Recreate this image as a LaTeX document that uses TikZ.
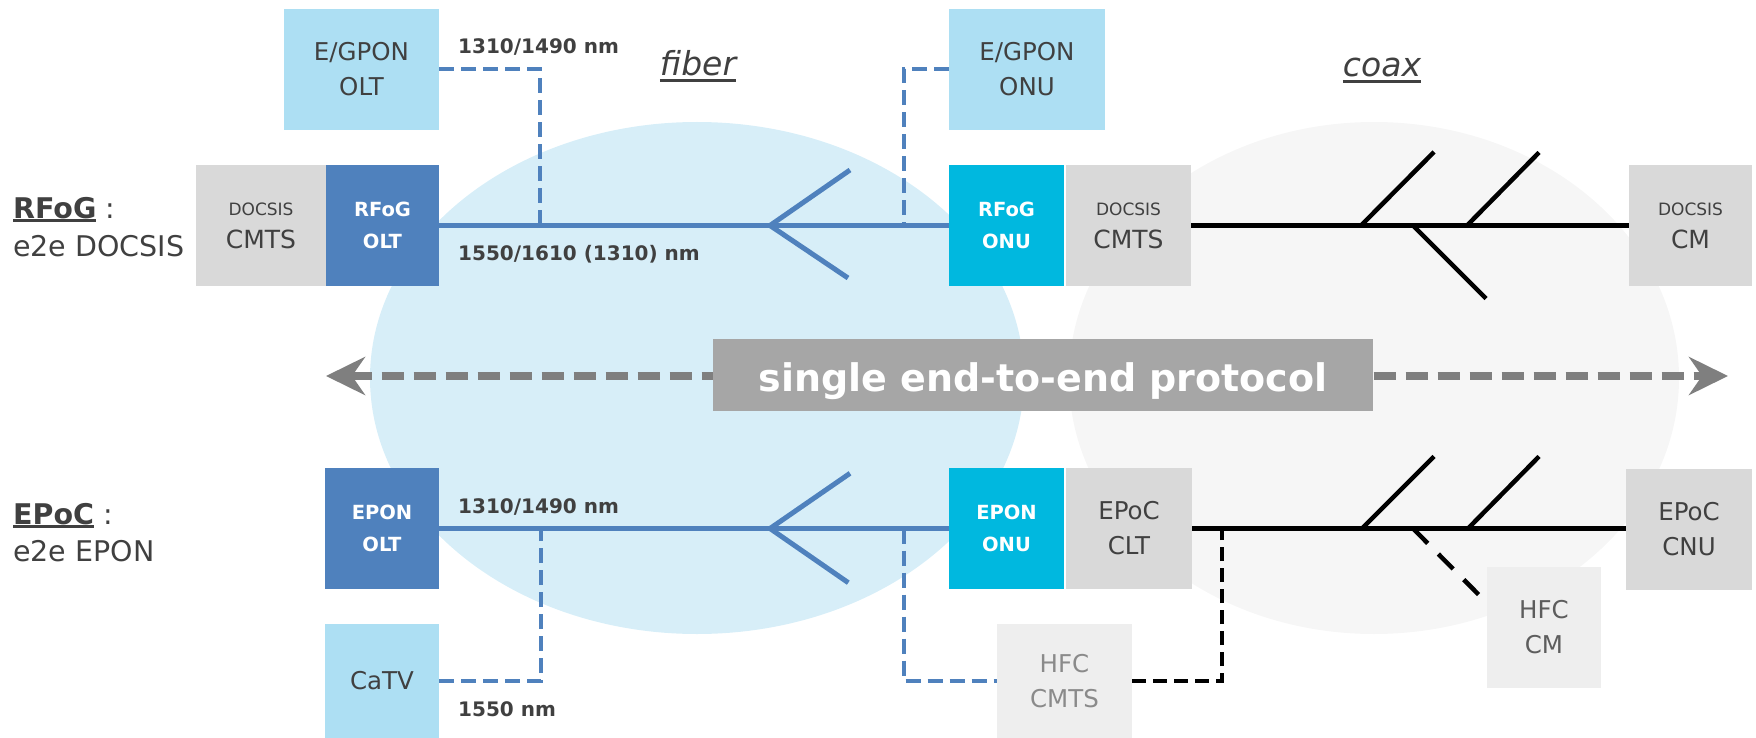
\documentclass[tikz,border=0pt]{standalone}
\usepackage{fontspec}
\setmainfont{DejaVu Sans}
\usetikzlibrary{arrows.meta}
\definecolor{lblue}{HTML}{ADDFF3}
\definecolor{sblue}{HTML}{4F81BD}
\definecolor{cyanb}{HTML}{00B8DF}
\definecolor{gbox}{HTML}{D9D9D9}
\definecolor{hbox}{HTML}{EEEEEE}
\definecolor{ellb}{HTML}{D7EEF8}
\definecolor{ellg}{HTML}{F6F6F6}
\definecolor{txt}{HTML}{404040}
\definecolor{htxt}{HTML}{8A8A8A}
\definecolor{agray}{HTML}{7F7F7F}
\definecolor{pgray}{HTML}{A6A6A6}
\newcommand\myreg{\fontsize{24.5}{35}\selectfont}
\newcommand\mybold{\fontsize{19.5}{32}\selectfont\bfseries}
\newcommand\mysmall{\fontsize{17}{20}\selectfont}
\newcommand\mynm{\fontsize{20}{24}\selectfont\bfseries}
\newcommand\mylab{\fontsize{28.5}{38}\selectfont}
\newcommand\myul[2][4pt]{\setbox0=\hbox{#2}\rlap{\raisebox{-#1}{\rule{\wd0}{3pt}}}\box0\relax}
\begin{document}
\begin{tikzpicture}[x=1pt,y=-1pt,
  bx/.style={inner sep=0pt, outer sep=0pt, align=center, text=txt, font=\myreg},
  lb/.style={bx, fill=lblue},
  gb/.style={bx, fill=gbox},
  dgb/.style={bx, fill=gbox, font=\fontsize{25}{33}\selectfont},
  hb/.style={bx, fill=hbox},
  db/.style={bx, fill=sblue, text=white, font=\mybold},
  cb/.style={bx, fill=cyanb, text=white, font=\mybold},
  fib/.style={draw=sblue, line width=5pt},
  fibd/.style={draw=sblue, line width=4pt, dash pattern=on 15pt off 7pt},
  cox/.style={draw=black, line width=5pt},
  coxb/.style={draw=black, line width=4.5pt},
  coxd/.style={draw=black, line width=4pt, dash pattern=on 14pt off 7pt},
  coxdd/.style={draw=black, line width=4.5pt, dash pattern=on 21pt off 15pt},
  nm/.style={font=\mynm, text=txt, anchor=base west, inner sep=0pt},
  lab/.style={font=\mylab, text=txt, anchor=base west, inner sep=0pt},
  medium/.style={font=\fontsize{33}{40}\selectfont\itshape, text=txt, anchor=base, inner sep=0pt},
  ptip/.tip={Stealth[length=39pt,width=38pt,inset=13pt]}
]
\useasboundingbox (0,0) rectangle (1756,738);
% background regions
\fill[ellb] (697,378) ellipse [x radius=327, y radius=256];
\fill[ellg] (1374,378) ellipse [x radius=305, y radius=256];

% boxes
\node[lb, minimum width=155, minimum height=121] (egolt) at (361.5,69.5) {E/GPON\\OLT};
\node[dgb, minimum width=130, minimum height=121] (dcmtsL) at (261,225.5) {{\mysmall DOCSIS}\\CMTS};
\node[db, minimum width=113, minimum height=121] (rfogolt) at (382.5,225.5) {RFoG\\OLT};
\node[lb, minimum width=156, minimum height=121] (egonu) at (1027,69.5) {E/GPON\\ONU};
\node[cb, minimum width=115, minimum height=121] (rfogonu) at (1006.5,225.5) {RFoG\\ONU};
\node[dgb, minimum width=125, minimum height=121] (dcmtsR) at (1128.5,225.5) {{\mysmall DOCSIS}\\CMTS};
\node[dgb, minimum width=123, minimum height=121] (dcm) at (1690.5,225.5) {{\mysmall DOCSIS}\\CM};

\node[db, minimum width=114, minimum height=121] (eponolt) at (382,528.5) {EPON\\OLT};
\node[lb, minimum width=114, minimum height=114] (catv) at (382,681) {CaTV};
\node[cb, minimum width=115, minimum height=121] (epononu) at (1006.5,528.5) {EPON\\ONU};
\node[gb, minimum width=126, minimum height=121] (epocclt) at (1129,528.5) {EPoC\\CLT};
\node[gb, minimum width=126, minimum height=121] (epoccnu) at (1689,529.5) {EPoC\\CNU};
\node[hb, minimum width=114, minimum height=121, text=txt!85] (hfccm) at (1544,627.5) {HFC\\CM};
\node[hb, minimum width=135, minimum height=114, text=htxt] (hfccmts) at (1064.5,681) {HFC\\CMTS};

% junction coordinates
\coordinate (j1) at (540,225.5);
\coordinate (j2) at (904,225.5);
\coordinate (j3) at (541,528.5);
\coordinate (j4) at (904,528.5);
\coordinate (j5) at (1222,528.5);

% top fiber
\draw[fib] (rfogolt.east) -- (rfogonu.west);
\coordinate (sv1) at (770,225.5);
\coordinate (su1) at (850,170);
\coordinate (sd1) at (848,278);
\draw[fib] (su1) -- (sv1) -- (sd1);
\draw[fibd] (egolt.east) -| (j1);
\draw[fibd] (egonu.west) -| (j2);

% top coax
\draw[cox] (dcmtsR.east) -- (dcm.west);
\coordinate (b1a) at (1361,225.5); \coordinate (b1b) at (1434,152);
\coordinate (b2a) at (1467,225.5); \coordinate (b2b) at (1539,152.5);
\coordinate (b3a) at (1413,225.5); \coordinate (b3b) at (1486,298.5);
\draw[coxb] (b1a) -- (b1b);
\draw[coxb] (b2a) -- (b2b);
\draw[coxb] (b3a) -- (b3b);

% bottom fiber
\draw[fib] (eponolt.east) -- (epononu.west);
\coordinate (sv2) at (770,528.5);
\coordinate (su2) at (850,473.3);
\coordinate (sd2) at (848.3,582.7);
\draw[fib] (su2) -- (sv2) -- (sd2);
\draw[fibd] (catv.east) -| (j3);
\draw[fibd] (j4) |- (hfccmts.west);

% bottom coax
\draw[cox] (epocclt.east) -- (epocclt.east -| epoccnu.west);
\draw[coxd] (hfccmts.east) -| (j5);
\coordinate (b4a) at (1362,528.5); \coordinate (b4b) at (1434,456.5);
\coordinate (b5a) at (1468,528.5); \coordinate (b5b) at (1539,456.5);
\coordinate (b6a) at (1413,528.5); \coordinate (b6b) at (1482,598);
\draw[coxb] (b4a) -- (b4b);
\draw[coxb] (b5a) -- (b5b);
\draw[coxdd] (b6a) -- (b6b);

% wavelength labels
\node[nm] (w1) at (458,54) {1310/1490 nm};
\node[nm] (w2) at (458,260.5) {1550/1610 (1310) nm};
\node[nm] (w3) at (458,513.3) {1310/1490 nm};
\node[nm] (w4) at (458,716.7) {1550 nm};

% medium labels
\node[medium] (fiberlbl) at (698,76) {\myul[6pt]{fiber}};
\node[medium] (coaxlbl) at (1382,77) {\myul[6pt]{coax}};

% left labels
\node[lab] (rfogA) at (13,218.5) {\myul{\textbf{RFoG}}\ :};
\node[lab] (rfogB) at (13,256.7) {e2e DOCSIS};
\node[lab] (epocA) at (13,524.3) {\myul{\textbf{EPoC}}\ :};
\node[lab] (epocB) at (13,561.7) {e2e EPON};

% protocol arrow
\coordinate (al) at (326,376);
\coordinate (ar) at (1728,376);
\draw[agray, line width=8pt, dash pattern=on 22pt off 10pt, {ptip}-{ptip}] (al) -- (ar);
\node[fill=pgray, minimum width=660, minimum height=72, inner sep=0pt] (proto) at (1043,375) {};
\node[anchor=base, inner sep=0pt, text=white, font=\fontsize{38}{44}\selectfont\bfseries] (prototxt) at (1043,391) {single end-to-end protocol};
\end{tikzpicture}
\end{document}
